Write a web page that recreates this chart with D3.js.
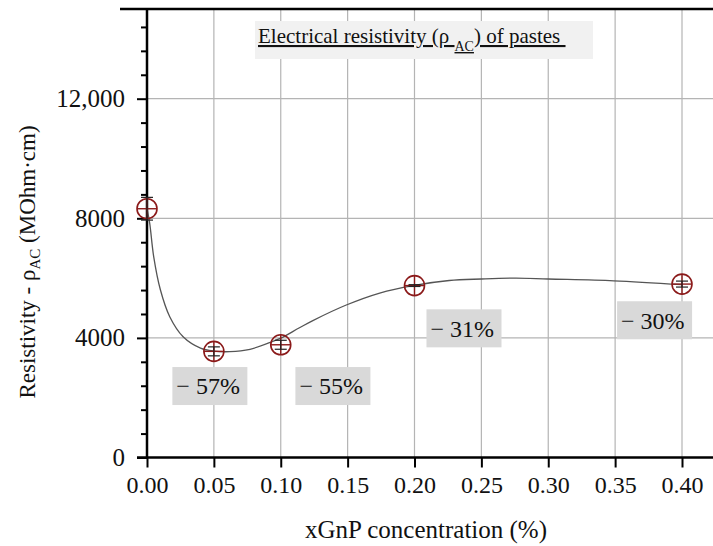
<!DOCTYPE html>
<html>
<head>
<meta charset="utf-8">
<script src="https://cdn.jsdelivr.net/npm/d3@7"></script>
<style>
    html, body { margin: 0; padding: 0; background: #fff; }
    #chart { width: 713px; height: 546px; }
    #chart text { font-family: "Liberation Serif", "Times New Roman", serif; }
</style>
</head>
<body>
<div id="chart"></div>
<script>
// measured points (xGnP %, MOhm·cm)
const concentrations = [0.00, 0.05, 0.10, 0.20, 0.40];
const resistivity = [8320, 3550, 3770, 5750, 5800];
const resistivityError = [380, 150, 150, 30, 100];

// fitted trend line
const fitX = [0.000, 0.002, 0.005, 0.010, 0.017, 0.027, 0.040, 0.050, 0.062, 0.077, 0.094, 0.100, 0.114, 0.124, 0.149, 0.174, 0.199, 0.226, 0.250, 0.276, 0.300, 0.349, 0.400];
const fitY = [8320, 7840, 6720, 5610, 4710, 4040, 3660, 3560, 3540, 3620, 3880, 3990, 4340, 4580, 5100, 5500, 5750, 5920, 5970, 6000, 5970, 5910, 5780];

// change vs. reference paste
const changeLabels = ["\u2212 57%", "\u2212 55%", "\u2212 31%", "\u2212 30%"];
const changeLabelX = [0.047, 0.139, 0.237, 0.3795];
const changeLabelY = [2390, 2390, 4320, 4590];

// axes
const xTicks = [0.00, 0.05, 0.10, 0.15, 0.20, 0.25, 0.30, 0.35, 0.40];
const xTickLabels = ["0.00", "0.05", "0.10", "0.15", "0.20", "0.25", "0.30", "0.35", "0.40"];
const yMajorTicks = [0, 4000, 8000, 12000];
const yTickLabels = ["0", "4000", "8000", "12,000"];
const yMinorStep = 800;
const yMax = 15000;

class Chart {
    constructor() {
        const attrs = {
            container: "#chart",
            svgWidth: 713,
            svgHeight: 546,
            plotLeft: 147,
            plotRight: 713,
            plotTop: 9,
            plotBottom: 457.5,
            xEnd: 682,
            defaultFont: "'Liberation Serif', 'Times New Roman', serif",
            gridColor: "#b4b4b4",
            markerColor: "#8b1a1a"
        };
        this.getState = () => attrs;
        this.setState = (d) => Object.assign(attrs, d);
    }

    render() {
        this.calculateProperties();
        this.drawSvg();
        this.drawGrid();
        this.drawAxes();
        this.drawTitle();
        this.drawFit();
        this.drawPoints();
        this.drawChangeLabels();
        return this;
    }

    calculateProperties() {
        const { plotLeft, xEnd, plotTop, plotBottom } = this.getState();
        const x = d3.scaleLinear().domain([0, 0.4]).range([plotLeft, xEnd]);
        const y = d3.scaleLinear().domain([0, yMax]).range([plotBottom, plotTop]);
        this.setState({ x, y });
    }

    drawSvg() {
        const { container, svgWidth, svgHeight, defaultFont } = this.getState();
        const svg = d3.select(container).append("svg")
            .attr("width", svgWidth)
            .attr("height", svgHeight)
            .attr("font-family", defaultFont)
            .attr("fill", "#111");
        this.setState({ svg });
    }

    drawGrid() {
        const { svg, x, y, plotLeft, plotRight, plotTop, plotBottom, gridColor } = this.getState();
        const grid = svg.append("g").attr("class", "grid");

        grid.selectAll(".vgrid")
            .data(xTicks.filter(d => d > 0))
            .join("line")
            .attr("class", "vgrid")
            .attr("x1", d => x(d)).attr("x2", d => x(d))
            .attr("y1", plotTop).attr("y2", plotBottom)
            .attr("stroke", gridColor)
            .attr("stroke-width", 1.2);

        grid.selectAll(".hgrid")
            .data(yMajorTicks.filter(d => d > 0))
            .join("line")
            .attr("class", "hgrid")
            .attr("x1", plotLeft).attr("x2", plotRight)
            .attr("y1", d => y(d)).attr("y2", d => y(d))
            .attr("stroke", gridColor)
            .attr("stroke-width", 1.2);
    }

    drawAxes() {
        const { svg, x, y, plotLeft, plotRight, plotTop, plotBottom, defaultFont } = this.getState();

        // y axis: major + minor ticks
        const yMinor = d3.range(0, yMax, yMinorStep).filter(d => !yMajorTicks.includes(d));
        const yAxisMinor = d3.axisLeft(y).tickValues(yMinor).tickSize(6).tickFormat("");
        const yAxisMajor = d3.axisLeft(y).tickValues(yMajorTicks).tickSize(10)
            .tickFormat((d, i) => yTickLabels[i]).tickPadding(12);

        const styleAxis = (g, size) => {
            g.attr("font-family", defaultFont).attr("font-size", size);
            g.select(".domain").remove();
            g.selectAll("line").attr("stroke", "#000").attr("stroke-width", 2);
            g.selectAll("text").attr("fill", "#111").attr("font-family", defaultFont);
        };

        svg.append("g").attr("transform", `translate(${plotLeft},0)`)
            .call(yAxisMinor)
            .call(g => styleAxis(g, 25));

        svg.append("g").attr("transform", `translate(${plotLeft},0)`)
            .call(yAxisMajor)
            .call(g => styleAxis(g, 25));

        // x axis
        const xAxis = d3.axisBottom(x).tickValues(xTicks).tickSize(10)
            .tickFormat((d, i) => xTickLabels[i]).tickPadding(8);
        svg.append("g").attr("transform", `translate(0,${plotBottom})`)
            .call(xAxis)
            .call(g => styleAxis(g, 24));

        // axis lines + top frame
        svg.append("line")
            .attr("x1", plotLeft).attr("x2", plotLeft)
            .attr("y1", plotTop).attr("y2", plotBottom)
            .attr("stroke", "#000").attr("stroke-width", 2.5);
        svg.append("line")
            .attr("x1", plotLeft - 10).attr("x2", plotRight)
            .attr("y1", plotBottom).attr("y2", plotBottom)
            .attr("stroke", "#000").attr("stroke-width", 2.5);
        svg.append("line")
            .attr("x1", 120).attr("x2", plotRight)
            .attr("y1", plotTop).attr("y2", plotTop)
            .attr("stroke", "#000").attr("stroke-width", 2.5);

        // axis titles
        svg.append("text")
            .attr("x", 426).attr("y", 538)
            .attr("text-anchor", "middle")
            .attr("font-size", 25)
            .text("xGnP concentration (%)");

        const yTitle = svg.append("text")
            .attr("transform", "translate(35,262) rotate(-90)")
            .attr("text-anchor", "middle")
            .attr("font-size", 23);
        yTitle.append("tspan").text("Resistivity - \u03C1");
        yTitle.append("tspan").attr("font-size", 15).attr("dy", 5).text("AC");
        yTitle.append("tspan").attr("dy", -5).text(" (MOhm\u00B7cm)");
    }

    drawTitle() {
        const { svg } = this.getState();
        svg.append("rect")
            .attr("x", 255).attr("y", 21)
            .attr("width", 338).attr("height", 38)
            .attr("fill", "#f1f1f1");
        const t = svg.append("text")
            .attr("x", 258).attr("y", 43)
            .attr("font-size", 21)
            .attr("text-decoration", "underline");
        t.append("tspan").text("Electrical resistivity (\u03C1 ");
        t.append("tspan").attr("font-size", 14).attr("dy", 8).text("AC");
        t.append("tspan").attr("dy", -8).text(") of pastes\u00A0");
    }

    drawFit() {
        const { svg, x, y } = this.getState();
        const line = d3.line()
            .x(d => x(d[0]))
            .y(d => y(d[1]))
            .curve(d3.curveCatmullRom.alpha(0.5));
        svg.append("path")
            .datum(d3.zip(fitX, fitY))
            .attr("d", line)
            .attr("fill", "none")
            .attr("stroke", "#555")
            .attr("stroke-width", 1.3);
    }

    drawPoints() {
        const { svg, x, y, markerColor } = this.getState();
        const r = 10;
        const pts = svg.append("g").selectAll("g")
            .data(d3.zip(concentrations, resistivity, resistivityError))
            .join("g")
            .attr("transform", d => `translate(${x(d[0])},${y(d[1])})`);

        pts.append("circle")
            .attr("r", r)
            .attr("fill", "none")
            .attr("stroke", markerColor)
            .attr("stroke-width", 1.6);
        pts.append("line")
            .attr("x1", -r).attr("x2", r)
            .attr("stroke", markerColor).attr("stroke-width", 1.4);
        pts.append("line")
            .attr("y1", -r).attr("y2", r)
            .attr("stroke", markerColor).attr("stroke-width", 1.4);

        // error bars
        const yPx = (d, s) => y(d[1] + s * d[2]) - y(d[1]);
        pts.append("line")
            .attr("y1", d => yPx(d, 1)).attr("y2", d => yPx(d, -1))
            .attr("stroke", "#222").attr("stroke-width", 1.2);
        [1, -1].forEach(s => {
            pts.append("line")
                .attr("x1", -6).attr("x2", 6)
                .attr("y1", d => yPx(d, s)).attr("y2", d => yPx(d, s))
                .attr("stroke", "#222").attr("stroke-width", 1.2);
        });
    }

    drawChangeLabels() {
        const { svg, x, y } = this.getState();
        const w = 75, h = 38;
        const labels = svg.append("g").selectAll("g")
            .data(d3.zip(changeLabelX, changeLabelY, changeLabels))
            .join("g")
            .attr("transform", d => `translate(${x(d[0])},${y(d[1])})`);
        labels.append("rect")
            .attr("x", -w / 2).attr("y", -h / 2)
            .attr("width", w).attr("height", h)
            .attr("fill", "#d9d9d9");
        labels.append("text")
            .attr("x", -w / 2 + 4)
            .attr("dy", "0.35em")
            .attr("font-size", 24)
            .text(d => d[2]);
    }
}

new Chart().render();
</script>
</body>
</html>
